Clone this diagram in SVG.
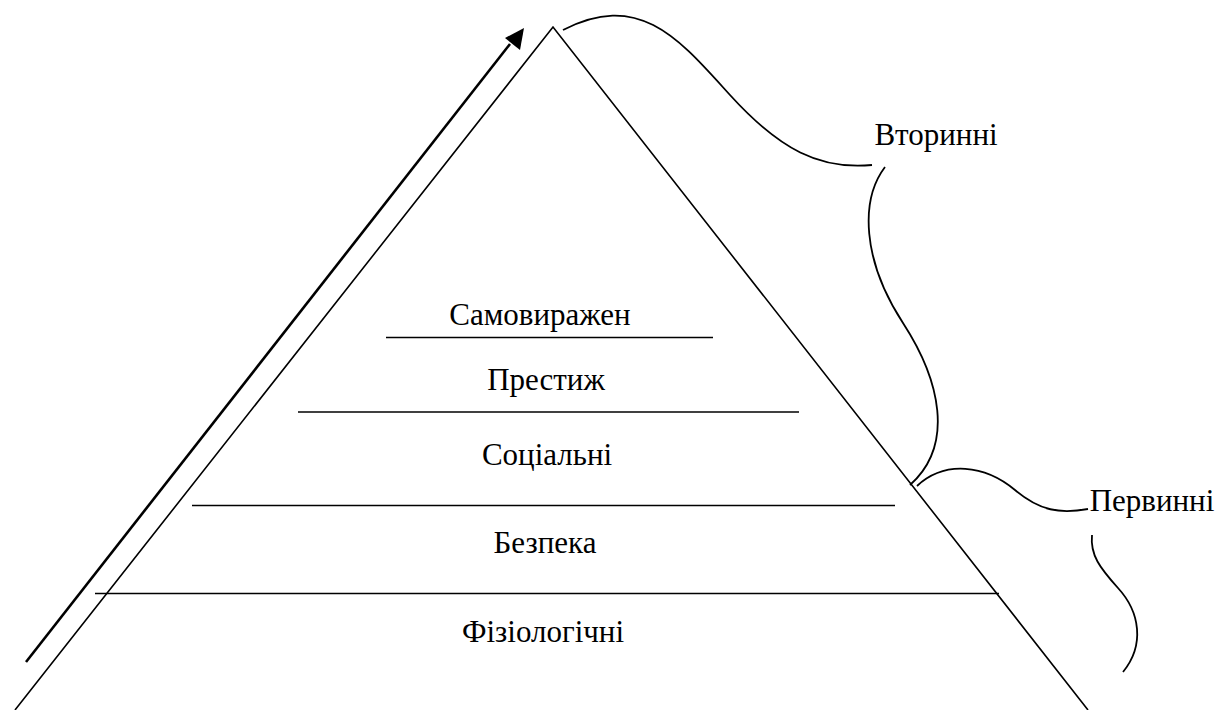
<svg xmlns="http://www.w3.org/2000/svg" width="1232" height="710" viewBox="0 0 1232 710">
<style>
.ln{stroke:#000;stroke-width:1.6;fill:none}
.br{stroke:#000;stroke-width:1.8;fill:none}
text{fill:#000;text-anchor:middle;font-family:"Times New Roman","Liberation Serif","DejaVu Serif",serif;font-size:31px}
</style>
<rect width="1232" height="710" fill="#fff"/>
<g id="pyramid">
<path class="ln" d="M15,710 L553,27 L1088,710"/>
</g>
<g id="level-self">
<line class="ln" x1="386" y1="337.5" x2="713" y2="337.5"/>
<text x="540" y="325">Самовиражен</text>
</g>
<g id="level-prestige">
<line class="ln" x1="298" y1="412" x2="799" y2="412"/>
<text x="546" y="390">Престиж</text>
</g>
<g id="level-social">
<line class="ln" x1="192" y1="505.5" x2="895" y2="505.5"/>
<text x="547" y="465">Соціальні</text>
</g>
<g id="level-safety">
<line class="ln" x1="95" y1="593.5" x2="999" y2="593.5"/>
<text x="545" y="553">Безпека</text>
</g>
<g id="level-physio">
<text x="543" y="642">Фізіологічні</text>
</g>
<g id="label-secondary">
<text x="936" y="145">Вторинні</text>
</g>
<g id="label-primary">
<text x="1152" y="511">Первинні</text>
</g>
<g id="connectors">
<line x1="26" y1="662" x2="510" y2="44" stroke="#000" stroke-width="2.6"/>
<path d="M524,28 L505,38 L520,50 Z" fill="#000"/>
<path class="br" d="M563,30 C640,-10 680,40 730,95 C780,150 820,170 872,165"/>
<path class="br" d="M885,167 C860,200 862,260 903,323 C940,380 955,445 910,485"/>
<path class="br" d="M917,486 C945,460 985,465 1015,490 C1040,511 1060,514 1088,509"/>
<path class="br" d="M1092,535 C1090,555 1100,568 1118,588 C1140,612 1145,645 1123,672"/>
</g>
</svg>
